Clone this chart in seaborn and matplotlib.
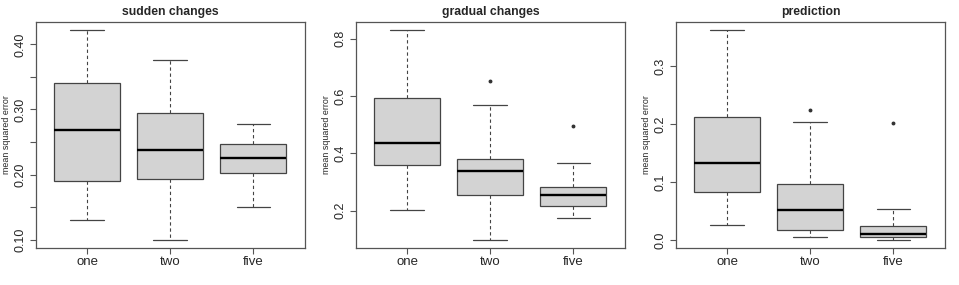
import numpy as np
import pandas as pd
import matplotlib
matplotlib.use("Agg")
import matplotlib.pyplot as plt
import seaborn as sns

# kategorien / gruppen
groups = ["one", "two", "five"]

# box-statistiken (whisker unten, q1, median, q3, whisker oben, ausreisser)
sudden_lo = [0.1295, 0.100, 0.1494]
sudden_q1 = [0.190, 0.193, 0.202]
sudden_med = [0.269, 0.237, 0.225]
sudden_q3 = [0.341, 0.295, 0.2466]
sudden_hi = [0.4215, 0.3755, 0.278]
sudden_out = [None, None, None]

gradual_lo = [0.2035, 0.099, 0.1733]
gradual_q1 = [0.359, 0.2533, 0.215]
gradual_med = [0.436, 0.3394, 0.2533]
gradual_q3 = [0.5935, 0.382, 0.281]
gradual_hi = [0.829, 0.569, 0.3672]
gradual_out = [None, 0.652, 0.496]

pred_lo = [0.0265, 0.0046, 0.0006]
pred_q1 = [0.0826, 0.0179, 0.0046]
pred_med = [0.1337, 0.0516, 0.0098]
pred_q3 = [0.2124, 0.0964, 0.025]
pred_hi = [0.362, 0.2038, 0.054]
pred_out = [None, 0.2238, 0.2026]

titles = ["sudden changes", "gradual changes", "prediction"]

sudden_ticks = [0.10, 0.15, 0.20, 0.25, 0.30, 0.35, 0.40]
sudden_ticklabels = ["0.10", "", "0.20", "", "0.30", "", "0.40"]
gradual_ticks = [0.2, 0.4, 0.6, 0.8]
gradual_ticklabels = ["0.2", "0.4", "0.6", "0.8"]
pred_ticks = [0.0, 0.1, 0.2, 0.3]
pred_ticklabels = ["0.0", "0.1", "0.2", "0.3"]


def baue_tabelle(lo, q1, med, q3, hi, out):
    """Baut eine lange Tabelle, deren Quartile genau die Statistiken ergeben"""
    zeilen = []
    for i, g in enumerate(groups):
        letzter = hi[i] if out[i] is None else out[i]
        werte = [lo[i], q1[i], q1[i], med[i], med[i], q3[i], q3[i], hi[i], letzter]
        for w in werte:
            zeilen.append({"gruppe": g, "mse": w})
    return pd.DataFrame(zeilen)


panels = [
    (baue_tabelle(sudden_lo, sudden_q1, sudden_med, sudden_q3, sudden_hi, sudden_out),
     sudden_ticks, sudden_ticklabels),
    (baue_tabelle(gradual_lo, gradual_q1, gradual_med, gradual_q3, gradual_hi, gradual_out),
     gradual_ticks, gradual_ticklabels),
    (baue_tabelle(pred_lo, pred_q1, pred_med, pred_q3, pred_hi, pred_out),
     pred_ticks, pred_ticklabels),
]

sns.set_style("white")
plt.rcParams["font.family"] = ["Liberation Sans", "DejaVu Sans"]

fig = plt.figure(figsize=(9.59, 2.85), dpi=100)
rand = "#555555"

for k, (df, ticks, ticklabels) in enumerate(panels):
    ax = fig.add_axes([(36 + 320 * k) / 959, 37 / 285, 269 / 959, 226 / 285])
    sns.boxplot(
        data=df, x="gruppe", y="mse", order=groups, ax=ax,
        color="#D3D3D3", saturation=1, linecolor="#444444", linewidth=0.9,
        width=0.8, whis=1.5,
        whiskerprops={"linestyle": (0, (3, 2.5)), "linewidth": 0.8},
        capprops={"linewidth": 0.9},
        medianprops={"color": "black", "linewidth": 1.7},
        flierprops={"marker": "o", "markersize": 1.8, "markerfacecolor": "#333333",
                    "markeredgecolor": "#333333"},
    )
    # R-typische achsengrenzen: datenbereich + 4 %
    alle = df["mse"]
    spanne = alle.max() - alle.min()
    ax.set_ylim(alle.min() - 0.04 * spanne, alle.max() + 0.04 * spanne)
    ax.set_xlim(-0.615, 2.625)

    ax.set_yticks(ticks)
    ax.set_yticklabels(ticklabels, rotation=90, va="center")
    ax.tick_params(axis="y", length=4, width=0.8, color=rand, labelsize=9, pad=2.5,
                   left=True, direction="out")
    ax.tick_params(axis="x", length=4, width=0.8, color=rand, labelsize=9.5, pad=1.5,
                   bottom=True, direction="out")

    for sp in ax.spines.values():
        sp.set_visible(True)
        sp.set_color(rand)
        sp.set_linewidth(0.9)

    ax.set_xlabel("")
    ax.set_ylabel("mean squared error", fontsize=6.4)
    ax.yaxis.set_label_coords(-0.094, 0.5)
    ax.set_title(titles[k], fontsize=8.8, fontweight="bold", pad=5)

fig.savefig("out.png", dpi=100)
